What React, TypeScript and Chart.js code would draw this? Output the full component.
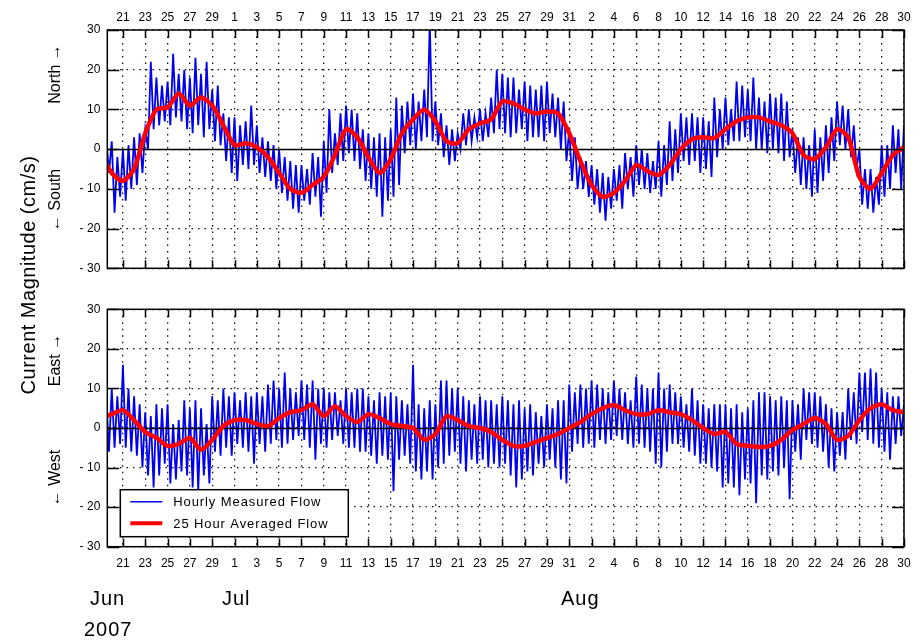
import { useEffect, useRef } from 'react';
import { Chart, registerables } from 'chart.js';

Chart.register(...registerables);

const FONT = "'Liberation Sans', Arial, Helvetica, sans-serif";

// x axis: day number counted from 1 Jun 2007 (Jul 1 = 31, Aug 1 = 62, Aug 30 = 91)
const X_MIN = 19.6;
const X_MAX = 91;
const TICK_DAYS = [21, 23, 25, 27, 29, 31, 33, 35, 37, 39, 41, 43, 45, 47, 49, 51, 53, 55, 57, 59, 61, 63, 65, 67, 69, 71, 73, 75, 77, 79, 81, 83, 85, 87, 89, 91];
const TICK_LABELS = ['21', '23', '25', '27', '29', '1', '3', '5', '7', '9', '11', '13', '15', '17', '19', '21', '23', '25', '27', '29', '31', '2', '4', '6', '8', '10', '12', '14', '16', '18', '20', '22', '24', '26', '28', '30'];
const Y_TICKS = [-30, -20, -10, 0, 10, 20, 30];
const Y_LABELS = ['- 30', '- 20', '- 10', '0', '10', '20', '30'];
const MONTHS = ['Jun', 'Jul', 'Aug'];
const YEAR = '2007';

// Hourly measured flow, read as half-day peaks (UP at t, DOWN at t + 0.25), t from 19.5 step 0.5
const FLOW_T0 = 19.5;
const NS_UP = [
  3,
  2, -2, 0, 1, 3, 4, 5, 22, 18, 16, // 20-24
  17, 24, 19, 20, 18, 23, 19, 22, 15, 16, // 25-29
  9, 8, 8, 6, 7, 11, 6, 3, 2, 1, // 30-34
  0, -2, -3, -4, -4, -5, -1, -2, 2, 10, // 35-39
  4, 9, 11, 10, 9, 5, 4, 3, 4, 3, // 40-44
  5, 13, 11, 12, 14, 12, 15, 32, 12, 9, // 45-49
  6, 5, 4, 9, 10, 8, 10, 9, 13, 20, // 50-54
  19, 18, 18, 15, 17, 16, 15, 16, 17, 14, // 55-59
  13, 12, 5, 3, -2, -3, -4, -5, -6, -7, // 60-64
  -5, -4, -1, -2, 1, 0, -1, -3, 2, 1, // 65-69
  7, 5, 9, 8, 9, 8, 8, 7, 13, 10, // 70-74
  13, 10, 17, 16, 15, 18, 13, 12, 14, 13, // 75-79
  14, 12, 5, 3, 3, 1, 5, 3, 6, 8, // 80-84
  12, 11, 10, 6, 0, -5, -5, -7, 1, 1, // 85-89
  6, 5, // 90
  6,
];
const NS_DOWN = [
  -6,
  -16, -12, -13, -10, -9, -6, 0, 5, 6, 7, // 20-24
  6, 8, 7, 5, 4, 6, 3, 5, 2, 1, // 25-29
  -3, -6, -8, -4, -5, -4, -6, -7, -8, -10, // 30-34
  -11, -13, -15, -16, -13, -14, -12, -17, -11, -6, // 35-39
  -4, -3, -1, -3, -5, -8, -10, -12, -17, -13, // 40-44
  -12, -9, -1, 1, 0, 2, 3, 2, 1, -2, // 45-49
  -4, -3, 0, 1, 2, 3, 2, 3, 4, 5, // 50-54
  4, 3, 4, 5, 2, 3, 3, 2, 4, 3, // 55-59
  0, -3, -8, -10, -10, -12, -14, -16, -18, -15, // 60-64
  -13, -15, -10, -12, -9, -10, -11, -10, -12, -9, // 65-69
  -8, -6, -3, -4, -3, -6, -5, -7, -2, 0, // 70-74
  1, 2, 2, 3, 2, 0, 0, -1, 0, -1, // 75-79
  -3, -2, -6, -9, -10, -12, -11, -8, -6, -3, // 80-84
  1, 0, -2, -5, -14, -15, -16, -14, -12, -10, // 85-89
  -6, -10, // 90
  -2,
];
const EW_UP = [
  8,
  10, 8, 16, 10, 8, 6, 4, 3, 6, 5, // 20-24
  6, 1, 2, 7, 5, 7, 5, 1, 8, 7, // 25-29
  10, 8, 9, 7, 9, 8, 9, 8, 11, 12, // 30-34
  10, 14, 10, 9, 12, 11, 12, 10, 10, 9, // 35-39
  9, 7, 10, 9, 10, 10, 8, 7, 9, 8, // 40-44
  9, 8, 7, 6, 16, 6, 5, 7, 6, 12, // 45-49
  12, 10, 10, 8, 7, 6, 8, 7, 7, 6, // 50-54
  8, 7, 6, 7, 5, 6, 4, 3, 6, 5, // 55-59
  7, 7, 11, 9, 11, 10, 12, 11, 10, 9, // 60-64
  12, 10, 9, 7, 13, 11, 10, 10, 14, 10, // 65-69
  11, 9, 8, 6, 10, 7, 6, 5, 6, 6, // 70-74
  6, 5, 6, 4, 5, 7, 9, 9, 8, 7, // 75-79
  8, 7, 7, 6, 10, 9, 9, 8, 6, 5, // 80-84
  4, 4, 10, 9, 14, 14, 15, 14, 10, 9, // 85-89
  8, 8, // 90
  6,
];
const EW_DOWN = [
  -6,
  -5, -4, -5, -6, -7, -10, -12, -15, -12, -9, // 20-24
  -14, -13, -11, -12, -15, -16, -12, -14, -6, -7, // 25-29
  -5, -7, -4, -5, -6, -9, -4, -6, -4, -3, // 30-34
  -5, -4, -3, -2, -3, -5, -8, -4, -5, -3, // 35-39
  -2, -4, -5, -5, -6, -6, -7, -9, -7, -8, // 40-44
  -16, -8, -7, -9, -11, -13, -11, -13, -10, -9, // 45-49
  -7, -6, -9, -11, -8, -9, -8, -10, -9, -10, // 50-54
  -9, -12, -15, -13, -11, -12, -9, -10, -8, -10, // 55-59
  -13, -14, -6, -4, -5, -4, -5, -3, -4, -3, // 60-64
  -2, -3, -4, -5, -4, -5, -6, -9, -10, -6, // 65-69
  -4, -4, -5, -6, -7, -9, -9, -10, -11, -15, // 70-74
  -14, -15, -17, -13, -14, -19, -12, -13, -11, -12, // 75-79
  -10, -18, -6, -8, -3, -4, -5, -6, -10, -11, // 80-84
  -7, -8, -3, -4, -1, -3, -4, -5, -6, -8, // 85-89
  -4, -2, // 90
  -1,
];

// 25 hour averaged flow, one value per day from day 19
const AVG_T0 = 19;
const NS_AVG = [
  -1, -6, -8, -5, 4, 10, 10.5, 14, 11, 13, // 19-28
  11, 6, 1, 1.5, 0.5, -2, -6, -10, -11, -9, // 29-38
  -7, -1.5, 5, 3, -2, -6, -2.5, 4, 7.5, 10, // 39-48
  7, 2, 1.5, 5, 6.5, 7.5, 12, 11.5, 10, 9, // 49-58
  9.5, 9, 4, -3, -9, -12, -11, -8, -4, -5.5, // 59-68
  -6.5, -4, 0, 2.5, 3, 2.8, 5, 7, 8, 8, // 69-78
  7, 6, 4, -1.5, -2.5, 0.5, 5, 3, -7, -10, // 79-88
  -6, -1.5, 0.5, // 89-91
];
const EW_AVG = [
  2.5, 3.5, 4.5, 2, -1, -2.5, -4.5, -4, -2.5, -5.5, // 19-28
  -3, 0.5, 2, 2, 1, 0.5, 2.5, 4, 4.5, 6, // 29-38
  3, 5.5, 3, 1.5, 3.5, 2.5, 1, 0.5, 0, -3, // 39-48
  -1.5, 3, 2, 0.5, 0, -1, -3, -4.5, -4.5, -3.5, // 49-58
  -2.5, -1.5, 0, 1.5, 3.5, 5, 5.8, 4.5, 3.5, 3.5, // 59-68
  4.5, 4, 3.5, 2, 0, -1.5, -1, -4, -4.5, -4.8, // 69-78
  -4.5, -3, -0.5, 1, 2.5, 1, -3, -2, 2, 5, // 79-88
  6, 4.5, 4, // 89-91
];

const LEGEND_LABELS = ['Hourly Measured Flow', '25 Hour Averaged Flow'];
const BLUE = '#0000f0';
const RED = '#ff0000';

function flowPoints(up: number[], down: number[]) {
  const pts: { x: number; y: number }[] = [];
  up.forEach((v, i) => {
    const t = FLOW_T0 + i * 0.5;
    pts.push({ x: t, y: v });
    pts.push({ x: t + 0.25, y: down[i] });
  });
  return pts;
}

function avgPoints(vals: number[]) {
  return vals.map((v, i) => ({ x: AVG_T0 + i, y: v }));
}

const framePlugin = {
  id: 'frame',
  afterDatasetDraw(chart: any, args: any) {
    if (args.index !== 1) return;
    const { ctx, chartArea: a, scales } = chart;
    const y0 = Math.round(scales.y.getPixelForValue(0)) + 0.5;
    ctx.save();
    ctx.strokeStyle = '#000';
    ctx.lineWidth = 1.5;
    ctx.beginPath();
    ctx.moveTo(a.left, y0);
    ctx.lineTo(a.right, y0);
    ctx.stroke();
    ctx.restore();
  },
  afterDraw(chart: any) {
    const { ctx, chartArea: a, scales } = chart;
    ctx.save();
    ctx.strokeStyle = '#000';
    ctx.lineWidth = 1.5;
    ctx.strokeRect(a.left, a.top, a.right - a.left, a.bottom - a.top);
    ctx.beginPath();
    TICK_DAYS.forEach((d) => {
      const px = Math.round(scales.x.getPixelForValue(d)) + 0.5;
      ctx.moveTo(px, a.top);
      ctx.lineTo(px, a.top + 8);
      ctx.moveTo(px, a.bottom);
      ctx.lineTo(px, a.bottom - 8);
    });
    Y_TICKS.forEach((v) => {
      const py = Math.round(scales.y.getPixelForValue(v)) + 0.5;
      ctx.moveTo(a.left, py);
      ctx.lineTo(a.left + 12, py);
      ctx.moveTo(a.right, py);
      ctx.lineTo(a.right - 12, py);
    });
    ctx.stroke();
    ctx.restore();
  },
};

const legendPlugin = {
  id: 'boxLegend',
  afterDraw(chart: any) {
    const { ctx, chartArea: a } = chart;
    const x0 = a.left + 13;
    const y0 = a.bottom - 57;
    const w = 228;
    const h = 47;
    ctx.save();
    ctx.fillStyle = '#fff';
    ctx.fillRect(x0, y0, w, h);
    ctx.strokeStyle = '#000';
    ctx.lineWidth = 1.5;
    ctx.strokeRect(x0, y0, w, h);
    const rows = [
      { color: BLUE, width: 1.5, y: y0 + 12 },
      { color: RED, width: 4, y: y0 + 33.5 },
    ];
    ctx.font = `13px ${FONT}`;
    ctx.textBaseline = 'middle';
    ctx.textAlign = 'left';
    rows.forEach((r, i) => {
      ctx.strokeStyle = r.color;
      ctx.lineWidth = r.width;
      ctx.beginPath();
      ctx.moveTo(x0 + 10, r.y);
      ctx.lineTo(x0 + 42, r.y);
      ctx.stroke();
      ctx.fillStyle = '#000';
      (ctx as any).letterSpacing = '0.9px';
      ctx.fillText(LEGEND_LABELS[i], x0 + 53, r.y + 1);
    });
    ctx.restore();
  },
};

function makeConfig(up: number[], down: number[], avg: number[], isTop: boolean): any {
  return {
    type: 'line',
    data: {
      datasets: [
        {
          label: LEGEND_LABELS[1],
          data: avgPoints(avg),
          borderColor: RED,
          borderWidth: 4.5,
          pointRadius: 0,
          tension: 0.25,
          fill: false,
        },
        {
          label: LEGEND_LABELS[0],
          data: flowPoints(up, down),
          borderColor: BLUE,
          borderWidth: 1.8,
          pointRadius: 0,
          tension: 0,
          fill: false,
        },
      ],
    },
    options: {
      animation: false,
      responsive: false,
      maintainAspectRatio: false,
      events: [],
      layout: { padding: isTop ? { left: 0, right: 19, top: 0, bottom: 21.7 } : { left: 0, right: 19, top: 19.3, bottom: 0 } },
      plugins: { legend: { display: false }, tooltip: { enabled: false } },
      scales: {
        x: {
          type: 'linear',
          position: isTop ? 'top' : 'bottom',
          min: X_MIN,
          max: X_MAX,
          afterBuildTicks: (s: any) => {
            s.ticks = TICK_DAYS.map((v) => ({ value: v }));
          },
          afterFit: (s: any) => {
            s.height = isTop ? 30 : 93.3;
          },
          ticks: {
            autoSkip: false,
            maxRotation: 0,
            minRotation: 0,
            padding: isTop ? 5 : 10,
            color: '#000',
            font: { family: FONT, size: 12 },
            callback: (v: number) => TICK_LABELS[TICK_DAYS.indexOf(v)] ?? '',
          },
          grid: { color: '#111', lineWidth: 1.3, drawTicks: false },
          border: { display: false, dash: [1.5, 5] },
        },
        y: {
          min: -30,
          max: 30,
          afterBuildTicks: (s: any) => {
            s.ticks = Y_TICKS.map((v) => ({ value: v }));
          },
          afterFit: (s: any) => {
            s.width = 107.3;
          },
          ticks: {
            padding: 7,
            color: '#000',
            font: { family: FONT, size: 12 },
            callback: (v: number) => Y_LABELS[Y_TICKS.indexOf(v)] ?? '',
          },
          grid: { color: '#111', lineWidth: 1.3, drawTicks: false },
          border: { display: false, dash: [1.5, 5] },
        },
      },
    },
    plugins: isTop ? [framePlugin] : [framePlugin, legendPlugin],
  };
}

const rot = (left: number, top: number, size: number, spacing = 0): any => ({
  position: 'absolute',
  left,
  top,
  transform: 'translate(-50%, -50%) rotate(-90deg)',
  whiteSpace: 'nowrap',
  fontFamily: FONT,
  fontSize: size,
  letterSpacing: spacing,
  color: '#000',
  lineHeight: 1,
});

const flat = (left: number, top: number): any => ({
  position: 'absolute',
  left,
  top,
  fontFamily: FONT,
  fontSize: 20,
  letterSpacing: 1,
  color: '#000',
  lineHeight: 1,
  whiteSpace: 'nowrap',
});

export default function App() {
  const topRef = useRef<HTMLCanvasElement>(null);
  const botRef = useRef<HTMLCanvasElement>(null);

  useEffect(() => {
    const c1 = new Chart(topRef.current as HTMLCanvasElement, makeConfig(NS_UP, NS_DOWN, NS_AVG, true));
    const c2 = new Chart(botRef.current as HTMLCanvasElement, makeConfig(EW_UP, EW_DOWN, EW_AVG, false));
    return () => {
      c1.destroy();
      c2.destroy();
    };
  }, []);

  return (
    <div style={{ position: 'absolute', left: 0, top: 0, width: 923, height: 640, background: '#fff', overflow: 'hidden' }}>
      <canvas ref={topRef} width={923} height={290} style={{ position: 'absolute', left: 0, top: 0, width: 923, height: 290 }} />
      <canvas ref={botRef} width={923} height={350} style={{ position: 'absolute', left: 0, top: 290, width: 923, height: 350 }} />
      <div style={rot(28, 275, 20, 0.5)}>Current Magnitude (cm/s)</div>
      <div style={rot(55, 74, 16)}>North →</div>
      <div style={rot(55, 200, 16)}>← South</div>
      <div style={rot(55, 360, 16)}>East →</div>
      <div style={rot(55, 478, 16)}>← West</div>
      <div style={flat(90, 588)}>{MONTHS[0]}</div>
      <div style={flat(222, 588)}>{MONTHS[1]}</div>
      <div style={flat(561, 588)}>{MONTHS[2]}</div>
      <div style={flat(84, 619)}>{YEAR}</div>
    </div>
  );
}
